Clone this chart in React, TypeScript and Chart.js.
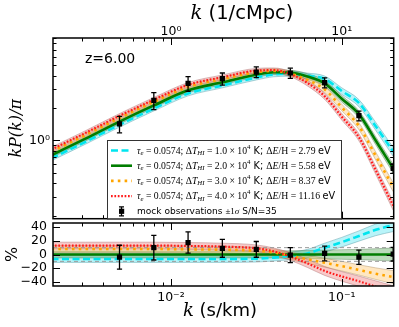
import React, { useEffect, useRef } from 'react';
import { Chart, registerables } from 'chart.js';

Chart.register(...registerables);

// ---------------- data ----------------
const K_GRID = [0.002, 0.00316, 0.005, 0.00794, 0.0126, 0.02, 0.0316, 0.04, 0.05, 0.063, 0.0794, 0.1, 0.126, 0.158, 0.2];
// kP(k)/pi of the fiducial (green, dT=2e4 K) model
const KP_FID = [0.73, 1.04, 1.5, 2.12, 2.93, 3.48, 4.1, 4.32, 4.28, 3.94, 3.4, 2.45, 1.76, 1.0, 0.55];
// residuals in percent relative to the fiducial model
const PCT_T1 = [-6.5, -6.5, -6.5, -6.5, -6.5, -6.5, -6, -4.5, -2, 1.5, 10, 18, 27, 36, 43];
const PCT_T2 = [0, 0, 0, 0, 0, 0, 0, 0, 0, 0, 0, 0, 0, 0, 0];
const PCT_T3 = [8, 8, 8, 8, 7.5, 7, 5.5, 3, -2, -7, -12, -17, -22.5, -28, -33];
const PCT_T4 = [13, 13, 13, 13, 12.5, 11.5, 9, 4.5, -3, -13, -24, -32, -39, -47, -55];
// half width of the shaded bands, percent
const BAND_PCT = [5, 5, 5, 5, 5, 5, 5, 5, 5.5, 6, 6.5, 7, 7.5, 8.5, 9.5];

// mock observations
const OBS_K = [0.005, 0.00794, 0.0126, 0.02, 0.0316, 0.05, 0.0794, 0.126, 0.2];
const OBS_KP = [1.43, 2.36, 3.4, 3.76, 4.34, 4.25, 3.46, 1.7, 0.55];
const OBS_PCT = [-4, 10, 17.5, 9, 7.5, -1, 1.5, -4, 0.5];
const OBS_ERR = [17.5, 18, 15.5, 13, 11.5, 11, 10.7, 10.5, 10];

const REF_PCT = [-10, 10];
const X_TICKS = [0.01, 0.1];
const X_TOP_TICKS = [1, 10];
const Y_TOP_TICKS = [1];
const Y_BOT_TICKS = [-40, -20, 0, 20, 40];

const TAU_E = '0.0574';
const DT_HI = ['1.0', '2.0', '3.0', '4.0'];
const DE_H = ['2.79', '5.58', '8.37', '11.16'];
const REDSHIFT_LABEL = 'z=6.00';
const OBS_LABEL = 'mock observations';
const SN_LABEL = ' S/N=35';

// ---------------- ranges & styles ----------------
const K_MIN = 0.00204;
const K_MAX = 0.2014;
const KPC = 100; // k(1/cMpc) = 100 k(s/km)
const Y_TOP_MIN = 0.187;
const Y_TOP_MAX = 9.0;
const Y_BOT_MIN = -46;
const Y_BOT_MAX = 46;

const STYLES = [
  { color: '#00e5ef', dash: [7, 3.5], width: 2.6, fill: 'rgba(0,215,235,0.28)', edge: 'rgba(80,150,160,0.55)' },
  { color: '#007d00', dash: [] as number[], width: 2.6, fill: 'rgba(40,140,40,0.32)', edge: 'rgba(90,130,90,0.55)' },
  { color: '#ffa500', dash: [2.6, 4.2], width: 2.6, fill: 'rgba(255,185,80,0.35)', edge: 'rgba(170,140,100,0.55)' },
  { color: '#ff1a1a', dash: [1.7, 1.7], width: 2.2, fill: 'rgba(235,100,100,0.35)', edge: 'rgba(170,110,110,0.55)' },
];
const PCTS = [PCT_T1, PCT_T2, PCT_T3, PCT_T4];

const SUP: Record<string, string> = { '-': '⁻', '0': '⁰', '1': '¹', '2': '²', '3': '³', '4': '⁴', '5': '⁵', '6': '⁶', '7': '⁷', '8': '⁸', '9': '⁹' };
const pow10Label = (v: number) => {
  const e = Math.round(Math.log10(v));
  return '10' + String(e).split('').map((c) => SUP[c]).join('');
};

Chart.defaults.font.family = "'DejaVu Sans', sans-serif";
Chart.defaults.color = '#000';

function buildDatasets(panel: 'top' | 'bot') {
  const ds: any[] = [];
  PCTS.forEach((pct, i) => {
    const st = STYLES[i];
    const center = K_GRID.map((_, j) => (panel === 'top' ? KP_FID[j] * (1 + pct[j] / 100) : pct[j]));
    const hi = center.map((v, j) => (panel === 'top' ? v * (1 + BAND_PCT[j] / 100) : v + BAND_PCT[j]));
    const lo = center.map((v, j) => (panel === 'top' ? v * (1 - BAND_PCT[j] / 100) : v - BAND_PCT[j]));
    const common = { pointRadius: 0, cubicInterpolationMode: 'monotone', clip: 0 };
    ds.push({ ...common, data: K_GRID.map((k, j) => ({ x: k, y: hi[j] })), borderColor: st.edge, borderWidth: 0.8, backgroundColor: st.fill, fill: '+1', order: 400 - i * 2 });
    ds.push({ ...common, data: K_GRID.map((k, j) => ({ x: k, y: lo[j] })), borderColor: st.edge, borderWidth: 0.8, fill: false, order: 399 - i * 2 });
    ds.push({ ...common, data: K_GRID.map((k, j) => ({ x: k, y: center[j] })), borderColor: st.color, borderWidth: st.width, borderDash: st.dash, fill: false, order: 40 - i * 10 });
  });
  if (panel === 'bot') {
    REF_PCT.forEach((v) => {
      ds.push({ data: [{ x: K_MIN, y: v }, { x: K_MAX, y: v }], borderColor: '#9a9a9a', borderWidth: 1, borderDash: [4, 3], pointRadius: 0, fill: false, order: 100, clip: 0 });
    });
  }
  OBS_K.forEach((k, j) => {
    const lo = panel === 'top' ? OBS_KP[j] * (1 - OBS_ERR[j] / 100) : OBS_PCT[j] - OBS_ERR[j];
    const hi = panel === 'top' ? OBS_KP[j] * (1 + OBS_ERR[j] / 100) : OBS_PCT[j] + OBS_ERR[j];
    ds.push({ data: [{ x: k, y: lo }, { x: k, y: hi }], borderColor: '#000', borderWidth: 1.3, pointStyle: 'line', pointRadius: 2.6, pointBorderWidth: 1.3, pointBorderColor: '#000', fill: false, order: 5, clip: 0 });
  });
  ds.push({
    data: OBS_K.map((k, j) => ({ x: k, y: panel === 'top' ? OBS_KP[j] : OBS_PCT[j] })),
    showLine: false, pointStyle: 'rect', pointRadius: 3.7, pointBackgroundColor: '#000', pointBorderColor: '#000', pointBorderWidth: 0, order: 1, clip: 0,
  });
  return ds;
}

function logTickVals(min: number, max: number) {
  const out: { v: number; major: boolean }[] = [];
  for (let e = Math.floor(Math.log10(min)); e <= Math.ceil(Math.log10(max)); e++) {
    for (let m = 1; m <= 9; m++) {
      const v = m * Math.pow(10, e);
      if (v >= min && v <= max) out.push({ v, major: m === 1 });
    }
  }
  return out;
}

function framePlugin(yLog: boolean) {
  return {
    id: 'frameTicks',
    afterDatasetsDraw(chart: any) {
      const { ctx, chartArea: a } = chart;
      const xs = chart.scales.x;
      const ys = chart.scales.y;
      ctx.save();
      ctx.strokeStyle = '#000';
      ctx.lineWidth = 1;
      const seg = (x1: number, y1: number, x2: number, y2: number) => {
        ctx.beginPath(); ctx.moveTo(x1, y1); ctx.lineTo(x2, y2); ctx.stroke();
      };
      for (const t of logTickVals(K_MIN, K_MAX)) {
        const px = Math.round(xs.getPixelForValue(t.v)) + 0.5;
        const L = t.major ? 7 : 3.5;
        seg(px, a.bottom, px, a.bottom - L);
        seg(px, a.top, px, a.top + L);
      }
      const yt = yLog ? logTickVals(Y_TOP_MIN, Y_TOP_MAX) : Y_BOT_TICKS.map((v) => ({ v, major: true }));
      for (const t of yt) {
        const py = Math.round(ys.getPixelForValue(t.v)) + 0.5;
        const L = t.major ? 7 : 3.5;
        seg(a.left, py, a.left + L, py);
        seg(a.right, py, a.right - L, py);
      }
      ctx.lineWidth = 1.5;
      ctx.strokeRect(a.left, a.top, a.right - a.left, a.bottom - a.top);
      ctx.restore();
    },
  };
}

type Seg = { t: string; f: 'it' | 'rm' | 'sans'; sc?: number; sh?: number };
const fontOf = (f: string, size: number) =>
  f === 'it' ? `italic ${size}px 'Liberation Serif'` : f === 'rm' ? `${size}px 'Liberation Serif'` : `${size}px 'DejaVu Sans'`;
function richWidth(ctx: CanvasRenderingContext2D, segs: Seg[], size: number) {
  let w = 0;
  for (const s of segs) { ctx.font = fontOf(s.f, size * (s.sc ?? 1)); w += ctx.measureText(s.t).width; }
  return w;
}
function drawRich(ctx: CanvasRenderingContext2D, segs: Seg[], x: number, y: number, size: number) {
  let cx = x;
  for (const s of segs) {
    ctx.font = fontOf(s.f, size * (s.sc ?? 1));
    ctx.fillText(s.t, cx, y + (s.sh ?? 0) * size);
    cx += ctx.measureText(s.t).width;
  }
}
const modelSegs = (i: number): Seg[] => [
  { t: 'τ', f: 'it' }, { t: 'e', f: 'it', sc: 0.7, sh: 0.22 },
  { t: ' = ' + TAU_E + '; ', f: 'rm' },
  { t: 'Δ', f: 'rm' }, { t: 'T', f: 'it' }, { t: 'HI', f: 'it', sc: 0.7, sh: 0.22 },
  { t: ' = ' + DT_HI[i] + ' × 10', f: 'rm' }, { t: '4', f: 'rm', sc: 0.7, sh: -0.4 },
  { t: ' K; ', f: 'sans' },
  { t: 'Δ', f: 'rm' }, { t: 'E', f: 'it' }, { t: '/H = ' + DE_H[i] + ' ', f: 'rm' },
  { t: 'eV', f: 'sans' },
];
const obsSegs: Seg[] = [
  { t: OBS_LABEL + ' ', f: 'sans' }, { t: '±1', f: 'rm' }, { t: 'σ', f: 'it' }, { t: SN_LABEL, f: 'sans' },
];

const topDecor = {
  id: 'topDecor',
  afterDraw(chart: any) {
    const ctx: CanvasRenderingContext2D = chart.ctx;
    ctx.save();
    ctx.fillStyle = '#000';
    ctx.textBaseline = 'alphabetic';
    // redshift label
    ctx.font = "14px 'DejaVu Sans'";
    ctx.fillText(REDSHIFT_LABEL, 85, 63);
    // top axis title
    const ts = 19.5;
    ctx.font = `italic ${ts}px 'DejaVu Serif'`;
    const kw = ctx.measureText('k ').width;
    ctx.font = `${ts}px 'DejaVu Sans'`;
    const rw = ctx.measureText('(1/cMpc)').width;
    const x0 = 242 - (kw + rw) / 2;
    ctx.font = `italic ${ts}px 'DejaVu Serif'`;
    ctx.fillText('k ', x0, 19);
    ctx.font = `${ts}px 'DejaVu Sans'`;
    ctx.fillText('(1/cMpc)', x0 + kw, 19);
    // legend
    const bx = 107, by = 140, bw = 234, bh = 78.5;
    ctx.fillStyle = '#fff';
    ctx.fillRect(bx, by, bw, bh);
    ctx.strokeStyle = '#333';
    ctx.lineWidth = 1;
    ctx.strokeRect(bx + 0.5, by + 0.5, bw, bh);
    const fs = (10 * 194) / richWidth(ctx, modelSegs(0), 10);
    const fsObs = (10 * 140) / richWidth(ctx, obsSegs, 10);
    const rowY = [150.5, 165.7, 180.9, 196.1, 211.3];
    STYLES.forEach((st, i) => {
      ctx.strokeStyle = st.color;
      ctx.lineWidth = st.width;
      ctx.setLineDash(st.dash);
      ctx.beginPath(); ctx.moveTo(111, rowY[i]); ctx.lineTo(132, rowY[i]); ctx.stroke();
      ctx.setLineDash([]);
      ctx.fillStyle = '#000';
      ctx.textBaseline = 'middle';
      drawRich(ctx, modelSegs(i), 137, rowY[i] + 0.5, fs);
    });
    // obs legend marker
    const my = rowY[4];
    ctx.strokeStyle = '#000';
    ctx.lineWidth = 1.3;
    ctx.beginPath(); ctx.moveTo(121.5, my - 4.5); ctx.lineTo(121.5, my + 4.5);
    ctx.moveTo(119, my - 4.5); ctx.lineTo(124, my - 4.5);
    ctx.moveTo(119, my + 4.5); ctx.lineTo(124, my + 4.5); ctx.stroke();
    ctx.fillStyle = '#000';
    ctx.fillRect(119, my - 2.6, 5.2, 5.2);
    drawRich(ctx, obsSegs, 137, my + 0.5, fsObs);
    ctx.restore();
  },
};

const botDecor = {
  id: 'botDecor',
  afterDraw(chart: any) {
    const ctx: CanvasRenderingContext2D = chart.ctx;
    ctx.save();
    ctx.fillStyle = '#000';
    ctx.textBaseline = 'alphabetic';
    ctx.font = "italic 18px 'DejaVu Serif'";
    const kw = ctx.measureText('k ').width;
    ctx.font = "18px 'DejaVu Sans'";
    const rw = ctx.measureText('(s/km)').width;
    const x0 = 220 - (kw + rw) / 2;
    const yb = 316 - 216;
    ctx.font = "italic 18px 'DejaVu Serif'";
    ctx.fillText('k ', x0, yb);
    ctx.font = "18px 'DejaVu Sans'";
    ctx.fillText('(s/km)', x0 + kw, yb);
    ctx.restore();
  },
};

const tickFont = { size: 12.5, family: "'DejaVu Sans'" };
const noVPad = (w: number) => (s: any) => { s.width = w; s.paddingTop = 0; s.paddingBottom = 0; };

export default function App() {
  const topRef = useRef<HTMLCanvasElement>(null);
  const botRef = useRef<HTMLCanvasElement>(null);

  useEffect(() => {
    const top = new Chart(topRef.current as HTMLCanvasElement, {
      type: 'line',
      data: { datasets: buildDatasets('top') },
      options: {
        animation: false,
        responsive: false,
        events: [],
        layout: { padding: { left: 0, right: 5, top: 0, bottom: 1 } },
        plugins: { legend: { display: false }, tooltip: { enabled: false } },
        scales: {
          x: { type: 'logarithmic', position: 'bottom', min: K_MIN, max: K_MAX, display: false },
          xTop: {
            type: 'logarithmic', position: 'top', min: K_MIN * KPC, max: K_MAX * KPC,
            grid: { display: false, drawTicks: false }, border: { display: false },
            afterBuildTicks: (s: any) => { s.ticks = X_TOP_TICKS.map((v) => ({ value: v })); },
            afterFit: (s: any) => { s.height = 38; s.paddingLeft = 0; s.paddingRight = 0; },
            ticks: { callback: (v: any) => pow10Label(Number(v)), font: tickFont, padding: -1, autoSkip: false, maxRotation: 0, minRotation: 0, color: '#000' },
          },
          y: {
            type: 'logarithmic', position: 'left', min: Y_TOP_MIN, max: Y_TOP_MAX,
            grid: { display: false, drawTicks: false }, border: { display: false },
            afterBuildTicks: (s: any) => { s.ticks = Y_TOP_TICKS.map((v) => ({ value: v })); },
            afterFit: noVPad(53),
            ticks: { callback: (v: any) => pow10Label(Number(v)), font: tickFont, padding: 3, autoSkip: false, color: '#000' },
            title: { display: true, text: 'kP(k)/π', color: '#000', font: { family: "'DejaVu Serif'", style: 'italic', size: 16 }, padding: { top: 7, bottom: 0 } },
          },
        },
      } as any,
      plugins: [framePlugin(true), topDecor],
    });

    const bot = new Chart(botRef.current as HTMLCanvasElement, {
      type: 'line',
      data: { datasets: buildDatasets('bot') },
      options: {
        animation: false,
        responsive: false,
        events: [],
        layout: { padding: { left: 0, right: 5, top: 7, bottom: 0 } },
        plugins: { legend: { display: false }, tooltip: { enabled: false } },
        scales: {
          x: {
            type: 'logarithmic', position: 'bottom', min: K_MIN, max: K_MAX,
            grid: { display: false, drawTicks: false }, border: { display: false },
            afterBuildTicks: (s: any) => { s.ticks = X_TICKS.map((v) => ({ value: v })); },
            afterFit: (s: any) => { s.height = 41; s.paddingLeft = 0; s.paddingRight = 0; },
            ticks: { callback: (v: any) => pow10Label(Number(v)), font: tickFont, padding: 4, autoSkip: false, maxRotation: 0, minRotation: 0, color: '#000' },
          },
          y: {
            type: 'linear', position: 'left', min: Y_BOT_MIN, max: Y_BOT_MAX,
            grid: { display: false, drawTicks: false }, border: { display: false },
            afterBuildTicks: (s: any) => { s.ticks = Y_BOT_TICKS.map((v) => ({ value: v })); },
            afterFit: noVPad(53),
            ticks: { callback: (v: any) => (Number(v) < 0 ? '−' + Math.abs(Number(v)) : String(v)), font: tickFont, padding: 6, autoSkip: false, color: '#000' },
            title: { display: true, text: '%', color: '#000', font: { family: "'DejaVu Sans'", size: 16 }, padding: { top: 3, bottom: 0 } },
          },
        },
      } as any,
      plugins: [framePlugin(false), botDecor],
    });

    return () => { top.destroy(); bot.destroy(); };
  }, []);

  return (
    <div style={{ position: 'fixed', left: 0, top: 0, width: 399, height: 327, background: '#fff' }}>
      <canvas ref={topRef} width={399} height={224} style={{ position: 'absolute', left: 0, top: 0 }} />
      <canvas ref={botRef} width={399} height={111} style={{ position: 'absolute', left: 0, top: 216 }} />
    </div>
  );
}
